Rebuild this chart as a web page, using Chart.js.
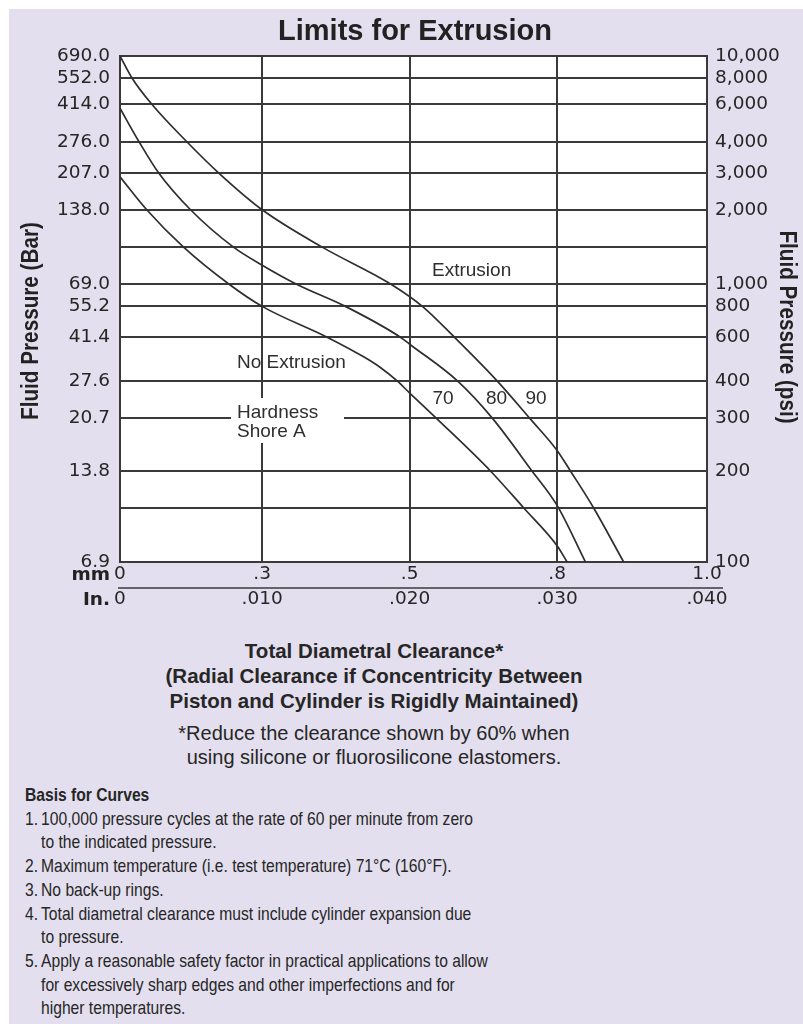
<!DOCTYPE html>
<html>
<head>
<meta charset="utf-8">
<title>Limits for Extrusion</title>
<script src="https://cdn.jsdelivr.net/npm/chart.js@4/dist/chart.umd.min.js"></script>
<style>
  html, body { margin: 0; padding: 0; background: #ffffff; }
  body { width: 803px; height: 1024px; position: relative; overflow: hidden; }
  #panel { position: absolute; left: 9px; top: 9px; right: 0; bottom: 0; background: #e3dfee; }
  #chart { position: absolute; left: 0; top: 0; }
  .caption { position: absolute; left: 74px; width: 600px; text-align: center; color: #262626;
             font-family: "Liberation Sans", Arial, sans-serif; white-space: nowrap; }
  /* condensed notes block */
  #basis { position: absolute; left: 25px; top: 783px; color: #262626;
           font-family: "Liberation Sans", Arial, sans-serif;
           font-size: 19px; line-height: 23.7px; white-space: nowrap;
           transform: scaleX(0.823); transform-origin: 0 0; }
  #basis .h { font-weight: bold; }
  #basis .item { display: flex; }
  #basis .item .n { width: 19.5px; flex: none; }
</style>
</head>
<body>
<div id="panel"></div>
<canvas id="chart" width="803" height="615"></canvas>

<div class="caption" style="top:637.5px; font-weight:bold; font-size:20.5px; line-height:25px;">Total Diametral Clearance*<br>(Radial Clearance if Concentricity Between<br>Piston and Cylinder is Rigidly Maintained)</div>
<div class="caption" style="top:721px; font-size:20px; line-height:24px;">*Reduce the clearance shown by 60% when<br>using silicone or fluorosilicone elastomers.</div>

<div id="basis">
  <div class="h">Basis for Curves</div>
  <div class="item"><span class="n">1.</span><span>100,000 pressure cycles at the rate of 60 per minute from zero<br>to the indicated pressure.</span></div>
  <div class="item"><span class="n">2.</span><span>Maximum temperature (i.e. test temperature) 71°C (160°F).</span></div>
  <div class="item"><span class="n">3.</span><span>No back-up rings.</span></div>
  <div class="item"><span class="n">4.</span><span>Total diametral clearance must include cylinder expansion due<br>to pressure.</span></div>
  <div class="item"><span class="n">5.</span><span>Apply a reasonable safety factor in practical applications to allow<br>for excessively sharp edges and other imperfections and for<br>higher temperatures.</span></div>
</div>

<script>
// ---- Axis ticks ----
const clearanceTicksIn   = [0, 0.010, 0.020, 0.030, 0.040];
const clearanceLabelsMm  = ['0', '.3', '.5', '.8', '1.0'];
const clearanceLabelsIn  = ['0', '.010', '.020', '.030', '.040'];

const pressureTicksPsi   = [100, 150, 200, 300, 400, 600, 800, 1000, 1500, 2000, 3000, 4000, 6000, 8000, 10000];
const pressureLabelsPsi  = ['100', '', '200', '300', '400', '600', '800', '1,000', '', '2,000', '3,000', '4,000', '6,000', '8,000', '10,000'];
const pressureLabelsBar  = ['6.9', '', '13.8', '20.7', '27.6', '41.4', '55.2', '69.0', '', '138.0', '207.0', '276.0', '414.0', '552.0', '690.0'];

// ---- Extrusion limit curves (clearance in inches, pressure in psi) ----
const hardnessShoreA = ['70', '80', '90'];

const clearance70In  = [0, 0.00188, 0.00447, 0.0077, 0.0100, 0.0144, 0.01688, 0.01801, 0.01915, 0.0200, 0.02178, 0.02548, 0.02774, 0.0300, 0.03067];
const pressure70Psi  = [2870, 2000, 1500, 1000, 800, 600, 500, 453, 400, 364, 300, 200, 150, 113, 100];

const clearance80In  = [0, 0.00134, 0.00271, 0.00496, 0.00798, 0.0100, 0.01237, 0.01564, 0.01937, 0.0200, 0.02324, 0.02559, 0.02830, 0.0300, 0.03189];
const pressure80Psi  = [5750, 4000, 3000, 2000, 1500, 1233, 1000, 800, 600, 562, 400, 300, 200, 153, 100];

const clearance90In  = [0, 0.00083, 0.00224, 0.0047, 0.00693, 0.0100, 0.01407, 0.01876, 0.02086, 0.02303, 0.02593, 0.02812, 0.0300, 0.03089, 0.03244, 0.03444];
const pressure90Psi  = [10000, 8000, 6000, 4000, 3000, 2000, 1500, 1000, 800, 600, 400, 300, 234, 200, 150, 100];

// ---- Chart paper ruling: where each ruled value sits along its axis (0 = start, 1 = end) ----
const paperRuling = {
  x:  { log: false, values: clearanceTicksIn,
        at: [0, 0.2422, 0.4935, 0.7446, 1] },
  y:  { log: true, values: pressureTicksPsi,
        at: [0, 0.1068, 0.1799, 0.2848, 0.3579, 0.4443, 0.5052, 0.5485, 0.6223, 0.6961, 0.7692, 0.8305, 0.9045, 0.9571, 1] }
};
paperRuling.y2 = paperRuling.y;

// A value axis that follows the ruling of a printed chart paper.
class RuledScale extends Chart.LinearScale {
  static id = 'ruled';
  static defaults = {};
  _ruling() { return paperRuling[this.id]; }
  _t(v) { return this._ruling().log ? Math.log10(v) : v; }
  _toDecimal(v) {
    const r = this._ruling(), vals = r.values, at = r.at;
    let i = 1;
    while (i < vals.length - 1 && v > vals[i]) i++;
    const a = this._t(vals[i - 1]), b = this._t(vals[i]);
    const f = (this._t(v) - a) / (b - a);
    return at[i - 1] + f * (at[i] - at[i - 1]);
  }
  _fromDecimal(d) {
    const r = this._ruling(), vals = r.values, at = r.at;
    let i = 1;
    while (i < at.length - 1 && d > at[i]) i++;
    const f = (d - at[i - 1]) / (at[i] - at[i - 1]);
    const t = this._t(vals[i - 1]) + f * (this._t(vals[i]) - this._t(vals[i - 1]));
    return r.log ? Math.pow(10, t) : t;
  }
  getPixelForValue(value) {
    if (value === null || value === undefined || isNaN(value)) return NaN;
    return this.getPixelForDecimal(this._toDecimal(value));
  }
  getValueForPixel(pixel) {
    return this._fromDecimal(this.getDecimalForPixel(pixel));
  }
}
Chart.register(RuledScale);

const INK = '#2e2e2e';
const GRID = '#3a3a3a';

function curve(xs, ys) { return xs.map((x, i) => ({ x: x, y: ys[i] })); }

const lineStyle = {
  borderColor: INK, borderWidth: 1.7, pointRadius: 0, fill: false,
  cubicInterpolationMode: 'monotone'
};

// Draws text squeezed along its own direction (condensed bold face).
function condensedText(ctx, text, x, y, angle, squeeze) {
  ctx.save();
  ctx.translate(x, y);
  ctx.rotate(angle);
  ctx.scale(squeeze, 1);
  ctx.fillText(text, 0, 0);
  ctx.restore();
}

// Paper background, titles, unit rows and in-plot annotations
const chartPaper = {
  id: 'chartPaper',
  beforeDraw(chart) {
    const { ctx, chartArea: a } = chart;
    ctx.save();
    ctx.fillStyle = '#ffffff';
    ctx.fillRect(a.left, a.top, a.right - a.left, a.bottom - a.top);
    ctx.restore();
  },
  beforeDatasetsDraw(chart) {
    const ctx = chart.ctx;
    ctx.save();
    // clear space on the grid for the hardness legend
    ctx.fillStyle = '#ffffff';
    ctx.fillRect(231, 398, 113, 45);
    ctx.fillStyle = INK;
    ctx.font = '19px "Liberation Sans", Arial, sans-serif';
    ctx.textBaseline = 'middle';
    ctx.textAlign = 'left';
    ctx.fillText('Hardness', 237, 413);
    ctx.fillText('Shore A', 237, 432);
    ctx.fillText('Extrusion', 432, 271);
    ctx.fillText('No Extrusion', 237, 363);
    ctx.textAlign = 'center';
    ctx.fillText(hardnessShoreA[0], 443, 399);
    ctx.fillText(hardnessShoreA[1], 496.5, 399);
    ctx.fillText(hardnessShoreA[2], 536, 399);
    ctx.restore();
  },
  afterDraw(chart) {
    const ctx = chart.ctx;
    ctx.save();
    ctx.fillStyle = '#222222';
    ctx.textBaseline = 'middle';

    ctx.textAlign = 'center';
    ctx.font = 'bold 29px "Liberation Sans", Arial, sans-serif';
    ctx.fillText('Limits for Extrusion', 415, 32);

    ctx.font = 'bold 23px "Liberation Sans", Arial, sans-serif';
    condensedText(ctx, 'Fluid Pressure (Bar)', 32, 321, -Math.PI / 2, 0.9);
    condensedText(ctx, 'Fluid Pressure (psi)', 786, 327, Math.PI / 2, 0.9);

    // unit names of the two clearance rows and the rule between them
    ctx.textAlign = 'right';
    ctx.font = 'bold 18.5px "DejaVu Sans", sans-serif';
    ctx.fillText('mm', 110, 575);
    ctx.fillText('In.', 110, 600);
    ctx.strokeStyle = GRID;
    ctx.lineWidth = 1.5;
    ctx.beginPath();
    ctx.moveTo(118, 588);
    ctx.lineTo(723, 588);
    ctx.stroke();
    ctx.restore();
  }
};

const tickFont = { family: '"DejaVu Sans", sans-serif', size: 18.5 };

new Chart(document.getElementById('chart').getContext('2d'), {
  type: 'line',
  data: {
    datasets: [
      Object.assign({ label: hardnessShoreA[0], data: curve(clearance70In, pressure70Psi) }, lineStyle),
      Object.assign({ label: hardnessShoreA[1], data: curve(clearance80In, pressure80Psi) }, lineStyle),
      Object.assign({ label: hardnessShoreA[2], data: curve(clearance90In, pressure90Psi) }, lineStyle)
    ]
  },
  options: {
    responsive: false,
    animation: false,
    devicePixelRatio: 1,
    events: [],
    layout: { padding: { top: 56, left: 0, right: 0, bottom: 0 } },
    plugins: { legend: { display: false }, tooltip: { enabled: false }, title: { display: false } },
    scales: {
      x: {
        type: 'ruled', position: 'bottom', min: 0, max: 0.04,
        afterBuildTicks: s => { s.ticks = clearanceTicksIn.map(v => ({ value: v })); },
        afterFit: s => { s.height = 53; },
        grid: { color: GRID, lineWidth: 2, drawTicks: false },
        border: { color: GRID, width: 2 },
        ticks: {
          autoSkip: false, maxRotation: 0, minRotation: 0, padding: 0, color: '#262626',
          font: Object.assign({ lineHeight: 25 / 18.5 }, tickFont),
          callback: (v, i) => [clearanceLabelsMm[i], clearanceLabelsIn[i]]
        }
      },
      y: {
        type: 'ruled', position: 'left', min: 100, max: 10000,
        afterBuildTicks: s => { s.ticks = pressureTicksPsi.map(v => ({ value: v })); },
        afterFit: s => { s.width = 120; },
        grid: { color: GRID, lineWidth: 2, drawTicks: false },
        border: { color: GRID, width: 2 },
        ticks: {
          autoSkip: false, padding: 10, color: '#262626', font: tickFont,
          callback: (v, i) => pressureLabelsBar[i]
        }
      },
      y2: {
        type: 'ruled', position: 'right', min: 100, max: 10000,
        afterBuildTicks: s => { s.ticks = pressureTicksPsi.map(v => ({ value: v })); },
        afterFit: s => { s.width = 96; },
        grid: { display: false, drawTicks: false },
        border: { color: GRID, width: 2 },
        ticks: {
          autoSkip: false, padding: 8, color: '#262626', font: tickFont,
          callback: (v, i) => pressureLabelsPsi[i]
        }
      }
    }
  },
  plugins: [chartPaper]
});
</script>
</body>
</html>
